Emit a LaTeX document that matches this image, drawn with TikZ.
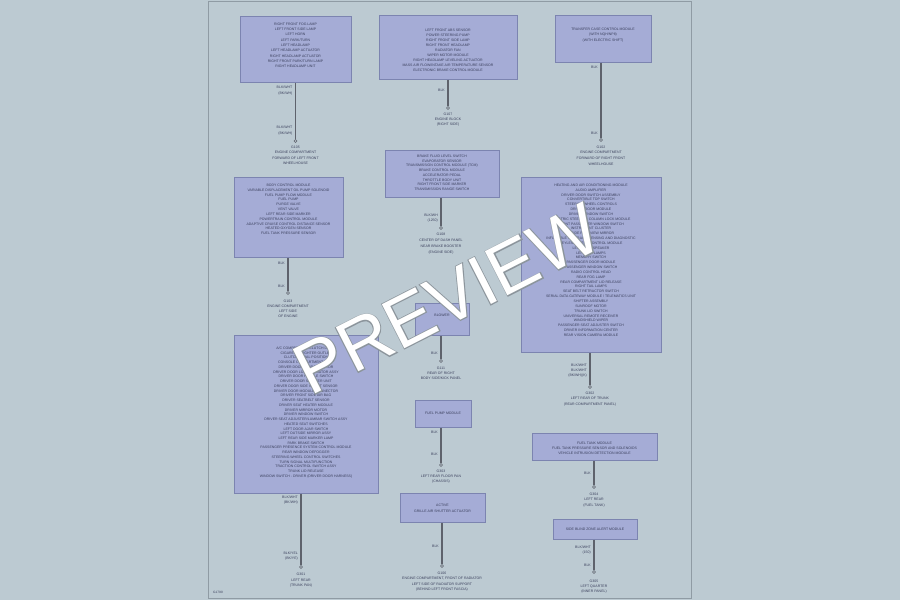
\documentclass[tikz,border=0pt]{standalone}
\usepackage{fontspec}
\setmainfont{Liberation Sans}
\newfontfamily\wmfat[FakeBold=2.5]{Liberation Sans}
\definecolor{bg}{HTML}{BCCAD2}
\definecolor{boxfill}{HTML}{A5ACD6}
\definecolor{boxline}{HTML}{7C84B0}
\definecolor{ink}{HTML}{3A3F5C}
\definecolor{wirec}{HTML}{5E626C}
\definecolor{pageline}{HTML}{8F9BA4}
\definecolor{wmline}{HTML}{8C959C}
\tikzset{
 box/.style={draw=boxline, fill=boxfill, line width=0.8pt, inner sep=0pt, anchor=north west},
 txt/.style={font=\fontsize{3.5}{4.85}\selectfont, text=ink, align=center, inner sep=0pt, anchor=north},
 lbl/.style={font=\fontsize{3.5}{5.5}\selectfont, text=ink, align=right, inner sep=0pt, anchor=north east},
 gnd/.style={circle, draw=wirec, line width=0.5pt, minimum size=3pt, inner sep=0pt},
 wire/.style={draw=wirec, line width=1.4pt},
 wmark/.style={font=\fontsize{72}{72}\selectfont, rotate=27, inner sep=0pt, anchor=center},
}
\begin{document}
\begin{tikzpicture}[x=1pt,y=-1pt]
\fill[bg] (0,0) rectangle (900,600);
\useasboundingbox (0,0) rectangle (900,600);
\draw[pageline, line width=0.8pt] (208.5,1) rectangle (691,598);
\node[txt, anchor=west, font=\fontsize{3.2}{4}\selectfont] (fig) at (213,592) {G1790};

% ---- Box A
\node[box, minimum width=111pt, minimum height=66pt] (A) at (240,16) {};
\node[txt, font=\fontsize{3.5}{5.3}\selectfont] (At) at (295.5,22.7) {RIGHT FRONT FOG LAMP\\LEFT FRONT SIDE LAMP\\LEFT HORN\\LEFT PARK/TURN\\LEFT HEADLAMP\\LEFT HEADLAMP ACTUATOR\\RIGHT HEADLAMP ACTUATOR\\RIGHT FRONT PARK/TURN LAMP\\RIGHT HEADLAMP UNIT};
\node[gnd] (gA) at (295.5,141) {};
\draw[wire] (A.south -| gA) -- (gA.north);
\node[lbl] (lA1) at (292.5,86) {BLK/WHT\\(BK/WH)};
\node[lbl] (lA2) at (292.5,126) {BLK/WHT\\(BK/WH)};
\node[txt, font=\fontsize{3.5}{5.4}\selectfont] (tA) at (295.5,145.7) {G105\\ENGINE COMPARTMENT\\FORWARD OF LEFT FRONT\\WHEELHOUSE};

% ---- Box B
\node[box, minimum width=138pt, minimum height=64pt] (B) at (379,15) {};
\node[txt, font=\fontsize{3.5}{5}\selectfont] (Bt) at (448,28.7) {LEFT FRONT ABS SENSOR\\POWER STEERING PUMP\\RIGHT FRONT SIDE LAMP\\RIGHT FRONT HEADLAMP\\RADIATOR FAN\\WIPER MOTOR MODULE\\RIGHT HEADLAMP LEVELING ACTUATOR\\MASS AIR FLOW/INTAKE AIR TEMPERATURE SENSOR\\ELECTRONIC BRAKE CONTROL MODULE};
\node[gnd] (gB) at (448,108) {};
\draw[wire] (B.south -| gB) -- (gB.north);
\node[lbl] (lB1) at (445,88.7) {BLK};
\node[txt, font=\fontsize{3.5}{5}\selectfont] (tB) at (448,112.5) {G107\\ENGINE BLOCK\\(RIGHT SIDE)};

% ---- Box C
\node[box, minimum width=96pt, minimum height=47pt] (C) at (555,15) {};
\node[txt, font=\fontsize{3.5}{5.5}\selectfont] (Ct) at (603,27.7) {TRANSFER CASE CONTROL MODULE\\(WITH NQH/NP8)\\(WITH ELECTRIC SHIFT)};
\node[gnd] (gC) at (601,140) {};
\draw[wire] (C.south -| gC) -- (gC.north);
\node[lbl] (lC1) at (598,65.7) {BLK};
\node[lbl] (lC2) at (598,131.7) {BLK};
\node[txt, font=\fontsize{3.5}{5.6}\selectfont] (tC) at (601,145.7) {G102\\ENGINE COMPARTMENT\\FORWARD OF RIGHT FRONT\\WHEELHOUSE};

% ---- Box D
\node[box, minimum width=109pt, minimum height=80pt] (D) at (234,177) {};
\node[txt] (Dt) at (288.5,183.7) {BODY CONTROL MODULE\\VARIABLE DISPLACEMENT OIL PUMP SOLENOID\\FUEL PUMP FLOW MODULE\\FUEL PUMP\\PURGE VALVE\\VENT VALVE\\LEFT REAR SIDE MARKER\\POWERTRAIN CONTROL MODULE\\ADAPTIVE CRUISE CONTROL DISTANCE SENSOR\\HEATED OXYGEN SENSOR\\FUEL TANK PRESSURE SENSOR};
\node[gnd] (gD) at (288,293) {};
\draw[wire] (D.south -| gD) -- (gD.north);
\node[lbl] (lD1) at (285,261.7) {BLK};
\node[lbl] (lD2) at (285,284.7) {BLK};
\node[txt, font=\fontsize{3.5}{5.1}\selectfont] (tD) at (288,299.7) {G103\\ENGINE COMPARTMENT\\LEFT SIDE\\OF ENGINE};

% ---- Box E
\node[box, minimum width=114pt, minimum height=47pt] (E) at (385,150) {};
\node[txt, font=\fontsize{3.5}{4.75}\selectfont] (Et) at (442,154.7) {BRAKE FLUID LEVEL SWITCH\\EVAPORATOR SENSOR\\TRANSMISSION CONTROL MODULE (TCM)\\BRAKE CONTROL MODULE\\ACCELERATOR PEDAL\\THROTTLE BODY UNIT\\RIGHT FRONT SIDE MARKER\\TRANSMISSION RANGE SWITCH};
\node[gnd] (gE) at (441,228) {};
\draw[wire] (E.south -| gE) -- (gE.north);
\node[lbl] (lE1) at (438,213.7) {BLK/WH\\(1250)};
\node[txt, font=\fontsize{3.5}{5.9}\selectfont] (tE) at (441,232.7) {G108\\CENTER OF DASH PANEL\\NEAR BRAKE BOOSTER\\(ENGINE SIDE)};

% ---- Box F
\node[box, minimum width=140pt, minimum height=175pt] (F) at (521,177) {};
\node[txt, font=\fontsize{3.5}{4.84}\selectfont] (Ft) at (591,183.7) {HEATING AND AIR CONDITIONING MODULE\\AUDIO AMPLIFIER\\DRIVER DOOR SWITCH ASSEMBLY\\CONVERTIBLE TOP SWITCH\\STEERING WHEEL CONTROLS\\DRIVER DOOR MODULE\\DRIVER WINDOW SWITCH\\ELECTRIC STEERING COLUMN LOCK MODULE\\FRONT PASSENGER WINDOW SWITCH\\INSTRUMENT CLUSTER\\INSIDE REARVIEW MIRROR\\INFLATABLE RESTRAINT SENSING AND DIAGNOSTIC\\KEYLESS ENTRY CONTROL MODULE\\LEFT REAR SPEAKER\\LEFT TAIL LAMPS\\MEMORY SWITCH\\PASSENGER DOOR MODULE\\PASSENGER WINDOW SWITCH\\RADIO CONTROL HEAD\\REAR FOG LAMP\\REAR COMPARTMENT LID RELEASE\\RIGHT TAIL LAMPS\\SEAT BELT RETRACTOR SWITCH\\SERIAL DATA GATEWAY MODULE / TELEMATICS UNIT\\SHIFTER ASSEMBLY\\SUNROOF MOTOR\\TRUNK LID SWITCH\\UNIVERSAL REMOTE RECEIVER\\WINDSHIELD WIPER\\PASSENGER SEAT ADJUSTER SWITCH\\DRIVER INFORMATION CENTER\\REAR VISION CAMERA MODULE};
\node[gnd] (gF) at (590,387) {};
\draw[wire] (F.south -| gF) -- (gF.north);
\node[lbl, font=\fontsize{3.5}{5}\selectfont] (lF1) at (587,363.7) {BLK/WHT\\BLK/WHT\\(BK/WH)(K)};
\node[txt, font=\fontsize{3.5}{5.5}\selectfont] (tF) at (590,391.7) {G302\\LEFT REAR OF TRUNK\\(REAR COMPARTMENT PANEL)};

% ---- Box G
\node[box, minimum width=144pt, minimum height=158pt] (G) at (234,335) {};
\node[txt, font=\fontsize{3.5}{4.74}\selectfont] (Gt) at (306,346.7) {A/C COMPRESSOR CLUTCH DIODE\\CIGARETTE LIGHTER OUTLET\\CLUTCH PEDAL POSITION\\CONSOLE COMPARTMENT LAMP\\DRIVER DOOR WINDOW MOTOR\\DRIVER DOOR LOCK ACTUATOR ASSY\\DRIVER DOOR HANDLE SWITCH\\DRIVER DOOR SPEAKER UNIT\\DRIVER DOOR SIDE IMPACT SENSOR\\DRIVER DOOR MODULE CONNECTOR\\DRIVER FRONT SIDE AIR BAG\\DRIVER SEATBELT SENSOR\\DRIVER SEAT HEATER MODULE\\DRIVER MIRROR MOTOR\\DRIVER WINDOW SWITCH\\DRIVER SEAT ADJUSTER/LUMBAR SWITCH ASSY\\HEATED SEAT SWITCHES\\LEFT DOOR AJAR SWITCH\\LEFT OUTSIDE MIRROR ASSY\\LEFT REAR SIDE MARKER LAMP\\PARK BRAKE SWITCH\\PASSENGER PRESENCE SYSTEM CONTROL MODULE\\REAR WINDOW DEFOGGER\\STEERING WHEEL CONTROL SWITCHES\\TURN SIGNAL MULTIFUNCTION\\TRACTION CONTROL SWITCH ASSY\\TRUNK LID RELEASE\\WINDOW SWITCH - DRIVER (DRIVER DOOR HARNESS)};
\node[gnd] (gG) at (301,567) {};
\draw[wire] (G.south -| gG) -- (gG.north);
\node[lbl] (lG1) at (298,495.7) {BLK/WHT\\(BK/WH)};
\node[lbl] (lG2) at (298,551.7) {BLK/YEL\\(BK/YE)};
\node[txt, font=\fontsize{3.5}{5.8}\selectfont] (tG) at (301,572.7) {G301\\LEFT REAR\\(TRUNK PAN)};

% ---- Box H
\node[box, minimum width=54pt, minimum height=32pt] (H) at (415,303) {};
\node[txt, anchor=center] (Ht) at (442,315) {BLOWER};
\node[gnd] (gH) at (441,361) {};
\draw[wire] (H.south -| gH) -- (gH.north);
\node[lbl] (lH1) at (438,351.7) {BLK};
\node[txt, font=\fontsize{3.5}{5.1}\selectfont] (tH) at (441,366.7) {G111\\REAR OF RIGHT\\BODY SIDE/KICK PANEL};

% ---- Box I
\node[box, minimum width=56pt, minimum height=27pt] (I) at (415,400) {};
\node[txt, anchor=center] (It) at (443,413.5) {FUEL PUMP MODULE};
\node[gnd] (gI) at (441,465) {};
\draw[wire] (I.south -| gI) -- (gI.north);
\node[lbl] (lI1) at (438,430.7) {BLK};
\node[lbl] (lI2) at (438,452.7) {BLK};
\node[txt, font=\fontsize{3.5}{5.2}\selectfont] (tI) at (441,469.7) {G303\\LEFT REAR FLOOR PAN\\(CHASSIS)};

% ---- Box J
\node[box, minimum width=125pt, minimum height=27pt] (J) at (532,433) {};
\node[txt, font=\fontsize{3.5}{5}\selectfont] (Jt) at (594.5,441.7) {FUEL TANK MODULE\\FUEL TANK PRESSURE SENSOR AND SOLENOIDS\\VEHICLE INTRUSION DETECTION MODULE};
\node[gnd] (gJ) at (594,487) {};
\draw[wire] (J.south -| gJ) -- (gJ.north);
\node[lbl] (lJ1) at (591,471.7) {BLK};
\node[txt, font=\fontsize{3.5}{5.5}\selectfont] (tJ) at (594,492.7) {G304\\LEFT REAR\\(FUEL TANK)};

% ---- Box K
\node[box, minimum width=85pt, minimum height=29pt] (K) at (400,493) {};
\node[txt, font=\fontsize{3.5}{6}\selectfont] (Kt) at (442.5,503.7) {ACTIVE\\GRILLE AIR SHUTTER ACTUATOR};
\node[gnd] (gK) at (442,566) {};
\draw[wire] (K.south -| gK) -- (gK.north);
\node[lbl] (lK1) at (439,544.7) {BLK};
\node[txt, font=\fontsize{3.5}{5.4}\selectfont] (tK) at (442,571.7) {G106\\ENGINE COMPARTMENT, FRONT OF RADIATOR\\LEFT SIDE OF RADIATOR SUPPORT\\(BEHIND LEFT FRONT FASCIA)};

% ---- Box L
\node[box, minimum width=84pt, minimum height=20pt] (L) at (553,519) {};
\node[txt, anchor=center] (Lt) at (595,529) {SIDE BLIND ZONE ALERT MODULE};
\node[gnd] (gL) at (594,572) {};
\draw[wire] (L.south -| gL) -- (gL.north);
\node[lbl, font=\fontsize{3.5}{5}\selectfont] (lL1) at (591,545.7) {BLK/WHT\\(150)};
\node[lbl] (lL2) at (591,563.7) {BLK};
\node[txt, font=\fontsize{3.5}{5}\selectfont] (tL) at (594,579.7) {G305\\LEFT QUARTER\\(INNER PANEL)};

% ---- watermark
\coordinate (wmc) at (447,299);
\node[wmark, text=wmline, font=\wmfat\fontsize{72}{72}\selectfont] (wmo) at (wmc) {PREVIEW};
\node[wmark, text=white] (wm) at (wmc) {PREVIEW};
\end{tikzpicture}
\end{document}
